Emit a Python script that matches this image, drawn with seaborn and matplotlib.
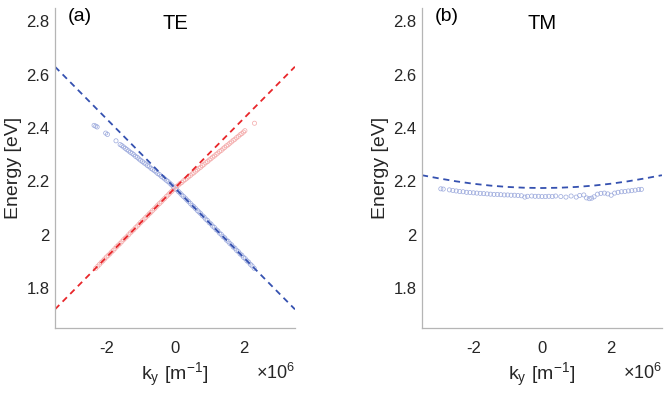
import matplotlib
matplotlib.use("Agg")
import matplotlib.pyplot as plt
import seaborn as sns
import pandas as pd

sns.set_style("white")
plt.rcParams["font.family"] = ["Liberation Sans", "DejaVu Sans"]
plt.rcParams["mathtext.fontset"] = "custom"
plt.rcParams["mathtext.rm"] = "Liberation Sans"

# ---------------- data (k_y in units of 1e6 m^-1, energy in eV) ----------------
# TE: dashed guide lines
te_line_k = [-3.5, 3.5]
te_line_blue_E = [2.630, 1.720]
te_line_red_E = [1.720, 2.630]

# TE: blue simulated points
te_blue_k = [-2.36, -2.31, -2.27, -2.02, -1.97, -1.72, -1.60, -1.55, -1.50, -1.45,
             -1.40, -1.35, -1.30, -1.25, -1.20, -1.15, -1.10, -1.05, -1.00, -0.95,
             -0.90, -0.85, -0.80, -0.75, -0.70, -0.65, -0.60, -0.55, -0.50, -0.45,
             -0.40, -0.35, -0.30, -0.25, -0.20, -0.15, -0.10, -0.05,
             0.05, 0.10, 0.15, 0.20, 0.25, 0.30, 0.35, 0.40, 0.45, 0.50,
             0.55, 0.60, 0.65, 0.70, 0.75, 0.80, 0.85, 0.90, 0.95, 1.00,
             1.05, 1.10, 1.15, 1.20, 1.25, 1.30, 1.35, 1.40, 1.45, 1.50,
             1.55, 1.60, 1.65, 1.70, 1.75, 1.80, 1.85, 1.90, 1.95, 2.00,
             2.05, 2.10, 2.15, 2.20, 2.25, 2.31]
te_blue_E = [2.410, 2.407, 2.404, 2.381, 2.376, 2.352, 2.338, 2.334, 2.329, 2.324,
             2.319, 2.314, 2.309, 2.305, 2.300, 2.294, 2.290, 2.284, 2.279, 2.274,
             2.269, 2.265, 2.259, 2.255, 2.249, 2.245, 2.240, 2.235, 2.229, 2.225,
             2.219, 2.215, 2.209, 2.204, 2.199, 2.193, 2.187, 2.180,
             2.169, 2.162, 2.156, 2.149, 2.143, 2.137, 2.130, 2.124, 2.117, 2.110,
             2.105, 2.098, 2.091, 2.085, 2.079, 2.071, 2.066, 2.058, 2.053, 2.045,
             2.040, 2.032, 2.027, 2.019, 2.014, 2.006, 2.001, 1.993, 1.988, 1.980,
             1.975, 1.967, 1.962, 1.954, 1.949, 1.941, 1.936, 1.928, 1.923, 1.915,
             1.910, 1.902, 1.897, 1.889, 1.883, 1.874]

# TE: red simulated points
te_red_k = [-2.31, -2.25, -2.20, -2.15, -2.10, -2.05, -2.00, -1.95, -1.90, -1.85,
            -1.80, -1.75, -1.70, -1.65, -1.60, -1.55, -1.50, -1.45, -1.40, -1.35,
            -1.30, -1.25, -1.20, -1.15, -1.10, -1.05, -1.00, -0.95, -0.90, -0.85,
            -0.80, -0.75, -0.70, -0.65, -0.60, -0.55, -0.50, -0.45, -0.40, -0.35,
            -0.30, -0.25, -0.20, -0.15, -0.10, -0.05,
            0.05, 0.10, 0.15, 0.20, 0.25, 0.30, 0.35, 0.40, 0.45, 0.50,
            0.55, 0.60, 0.65, 0.70, 0.75, 0.80, 0.85, 0.90, 0.95, 1.00,
            1.05, 1.10, 1.15, 1.20, 1.25, 1.30, 1.35, 1.40, 1.45, 1.50,
            1.55, 1.60, 1.65, 1.70, 1.75, 1.80, 1.85, 1.90, 1.95, 2.00,
            2.04, 2.32]
te_red_E = [1.874, 1.882, 1.889, 1.896, 1.902, 1.909, 1.916, 1.922, 1.928, 1.935,
            1.941, 1.948, 1.955, 1.961, 1.967, 1.974, 1.981, 1.987, 1.993, 2.000,
            2.007, 2.013, 2.019, 2.026, 2.032, 2.039, 2.046, 2.052, 2.058, 2.065,
            2.071, 2.078, 2.084, 2.091, 2.097, 2.104, 2.111, 2.117, 2.123, 2.130,
            2.136, 2.143, 2.149, 2.156, 2.162, 2.168,
            2.181, 2.186, 2.192, 2.196, 2.202, 2.207, 2.212, 2.217, 2.222, 2.228,
            2.232, 2.238, 2.243, 2.249, 2.253, 2.259, 2.264, 2.270, 2.274, 2.280,
            2.285, 2.291, 2.295, 2.301, 2.306, 2.312, 2.316, 2.322, 2.327, 2.333,
            2.337, 2.343, 2.348, 2.354, 2.358, 2.364, 2.369, 2.375, 2.379, 2.385,
            2.390, 2.418]

# TM: dashed guide line
tm_line_k = [-3.5, -3.0, -2.5, -2.0, -1.5, -1.0, -0.5, 0.0, 0.5, 1.0, 1.5, 2.0, 2.5, 3.0, 3.5]
tm_line_E = [2.223, 2.211, 2.200, 2.191, 2.184, 2.179, 2.176, 2.175, 2.176, 2.179,
             2.184, 2.191, 2.200, 2.211, 2.223]

# TM: simulated points
tm_k = [-2.95, -2.88, -2.70, -2.60, -2.50, -2.40, -2.30, -2.20, -2.10, -2.00,
        -1.90, -1.80, -1.70, -1.60, -1.50, -1.40, -1.30, -1.20, -1.10, -1.00,
        -0.90, -0.80, -0.70, -0.60, -0.50, -0.42, -0.30, -0.20, -0.10, 0.00,
        0.10, 0.20, 0.30, 0.40, 0.55, 0.70, 0.85, 1.00, 1.10, 1.22,
        1.30, 1.38, 1.45, 1.52, 1.62, 1.72, 1.82, 1.92, 2.02, 2.12,
        2.22, 2.32, 2.42, 2.52, 2.62, 2.72, 2.82, 2.90]
tm_E = [2.172, 2.171, 2.168, 2.166, 2.164, 2.162, 2.161, 2.159, 2.158, 2.157,
        2.156, 2.155, 2.154, 2.153, 2.152, 2.151, 2.151, 2.150, 2.149, 2.149,
        2.148, 2.148, 2.147, 2.146, 2.141, 2.144, 2.145, 2.144, 2.144, 2.143,
        2.143, 2.144, 2.143, 2.145, 2.143, 2.141, 2.145, 2.141, 2.147, 2.149,
        2.138, 2.135, 2.137, 2.142, 2.152, 2.155, 2.156, 2.153, 2.148, 2.156,
        2.159, 2.161, 2.162, 2.164, 2.165, 2.167, 2.169, 2.170]

x_ticks = [-2, 0, 2]
x_tick_labels = ["-2", "0", "2"]
y_ticks = [1.8, 2.0, 2.2, 2.4, 2.6, 2.8]
y_tick_labels = ["1.8", "2", "2.2", "2.4", "2.6", "2.8"]

# ---------------- styling ----------------
BLUE_LINE = "#3551b0"
RED_LINE = "#e8262a"
BLUE_PT = "#9aa8dc"
RED_PT = "#f4a8a8"
SPINE = "#b5b5b5"
TXT = "#262626"

fig = plt.figure(figsize=(6.64, 3.96), dpi=100)
axA = fig.add_axes([0.0828, 0.1717, 0.3614, 0.808])
axB = fig.add_axes([0.6355, 0.1717, 0.3614, 0.808])


def dashed(ax, k, E, color):
    sns.lineplot(x=k, y=E, ax=ax, color=color, linewidth=1.3,
                 linestyle=(0, (3.4, 2.6)), sort=False, estimator=None)


def points(ax, k, E, color):
    sns.scatterplot(x=k, y=E, ax=ax, s=9, marker="o", linewidth=0.5)
    coll = ax.collections[-1]
    coll.set_facecolor("none")
    coll.set_edgecolor(color)


points(axA, te_blue_k, te_blue_E, BLUE_PT)
points(axA, te_red_k, te_red_E, RED_PT)
dashed(axA, te_line_k, te_line_blue_E, BLUE_LINE)
dashed(axA, te_line_k, te_line_red_E, RED_LINE)

points(axB, tm_k, tm_E, BLUE_PT)
dashed(axB, tm_line_k, tm_line_E, BLUE_LINE)

for ax, tag, title in [(axA, "(a)", "TE"), (axB, "(b)", "TM")]:
    ax.set_xlim(-3.5, 3.5)
    ax.set_ylim(1.65, 2.85)
    ax.set_xticks(x_ticks)
    ax.set_xticklabels(x_tick_labels)
    ax.set_yticks(y_ticks)
    ax.set_yticklabels(y_tick_labels)
    for s in ["top", "right"]:
        ax.spines[s].set_visible(False)
    for s in ["left", "bottom"]:
        ax.spines[s].set_color(SPINE)
        ax.spines[s].set_linewidth(0.9)
    ax.tick_params(axis="both", direction="in", length=3.5, width=0.8, color=SPINE,
                   labelsize=12, labelcolor=TXT)
    ax.tick_params(axis="x", pad=9)
    ax.tick_params(axis="y", pad=4)
    ax.set_ylabel("Energy [eV]", fontsize=14, color=TXT, labelpad=3)
    ax.set_xlabel(r"$\mathregular{k_y\ [m^{-1}]}$", fontsize=14, color=TXT, labelpad=4)
    ax.text(1.0, -0.14, r"$\mathregular{\times10^6}$", transform=ax.transAxes,
            ha="right", va="center", fontsize=13, color=TXT)
    ax.text(0.104, 0.975, tag, transform=ax.transAxes, ha="center", va="center",
            fontsize=14, color="black")
    ax.text(0.5, 0.953, title, transform=ax.transAxes, ha="center", va="center",
            fontsize=14.5, color="black")

fig.savefig("out.png", dpi=100)
